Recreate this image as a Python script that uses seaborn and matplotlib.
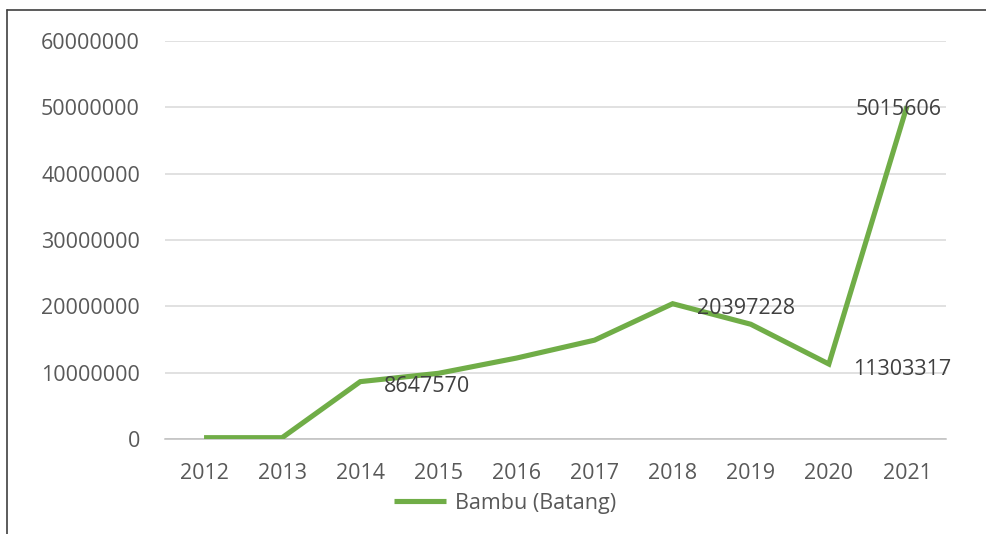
import matplotlib
matplotlib.use("Agg")
import matplotlib.pyplot as plt
from matplotlib.lines import Line2D
import seaborn as sns
import pandas as pd

# Bamboo production (stems) per year
years = ["2012", "2013", "2014", "2015", "2016", "2017", "2018", "2019", "2020", "2021"]
values = [200000, 200000, 8647570, 9900000, 12200000, 14900000, 20397228, 17300000, 11303317, 50156060]
series_name = "Bambu (Batang)"

# data labels shown on selected points: (year, text)
label_years = ["2014", "2018", "2020", "2021"]
label_texts = ["8647570", "20397228", "11303317", "5015606"]

y_ticks = [0, 10000000, 20000000, 30000000, 40000000, 50000000, 60000000]

GREEN = "#70AD47"
TICK_GRAY = "#595959"
LABEL_GRAY = "#404040"
GRID = "#D9D9D9"
FS = 15.5

sns.set_theme(style="white")
plt.rcParams["font.family"] = ["Open Sans", "DejaVu Sans"]

df = pd.DataFrame({"Tahun": years, "Jumlah": values})

W, H, DPI = 987, 534, 100
fig = plt.figure(figsize=(W / DPI, H / DPI), dpi=DPI)
ax = fig.add_axes([165 / W, 1 - 439 / H, 781 / W, 398 / H])

sns.lineplot(data=df, x="Tahun", y="Jumlah", ax=ax, color=GREEN, linewidth=3.7,
             sort=False, legend=False, zorder=3)
for l in ax.lines:
    l.set_solid_joinstyle("miter")
    l.set_solid_capstyle("butt")

ax.set_xlim(-0.5, len(years) - 0.5)
ax.set_ylim(y_ticks[0], y_ticks[-1])
ax.set_yticks(y_ticks)
ax.set_yticklabels([str(t) for t in y_ticks])
ax.set_xlabel("")
ax.set_ylabel("")

ax.grid(axis="y", color=GRID, linewidth=1.1)
ax.grid(axis="x", visible=False)
ax.set_axisbelow(True)
for side in ["top", "right", "left"]:
    ax.spines[side].set_visible(False)
ax.spines["bottom"].set_color("#BFBFBF")
ax.spines["bottom"].set_linewidth(1.1)

ax.tick_params(axis="y", length=0, pad=18, labelsize=FS, labelcolor=TICK_GRAY)
ax.tick_params(axis="x", length=0, pad=17, labelsize=FS, labelcolor=TICK_GRAY)

# data labels to the right of their points
px = 72 / DPI
for yr, txt in zip(label_years, label_texts):
    i = years.index(yr)
    v = values[i]
    if i == len(years) - 1:
        ax.annotate(txt, (i, v), xytext=(35 * px, -3 * px), textcoords="offset points",
                    ha="right", va="center", fontsize=FS, color=LABEL_GRAY, zorder=5)
    else:
        ax.annotate(txt, (i, v), xytext=(24 * px, -5 * px), textcoords="offset points",
                    ha="left", va="center", fontsize=FS, color=LABEL_GRAY, zorder=5)

handle = Line2D([], [], color=GREEN, linewidth=3.7, solid_capstyle="butt")
leg = fig.legend([handle], [series_name], loc="center",
                 bbox_to_anchor=(505 / W, 1 - 503 / H), frameon=False,
                 fontsize=FS, handlelength=2.4, handletextpad=0.4, borderpad=0)
for t in leg.get_texts():
    t.set_color(TICK_GRAY)

# chart frame (top and left edges)
fig.add_artist(Line2D([7 / W, 1], [1 - 10 / H, 1 - 10 / H], transform=fig.transFigure,
                      color="#404040", linewidth=1.2))
fig.add_artist(Line2D([7 / W, 7 / W], [0, 1 - 10 / H], transform=fig.transFigure,
                      color="#404040", linewidth=1.2))

fig.savefig("out.png", dpi=DPI)
